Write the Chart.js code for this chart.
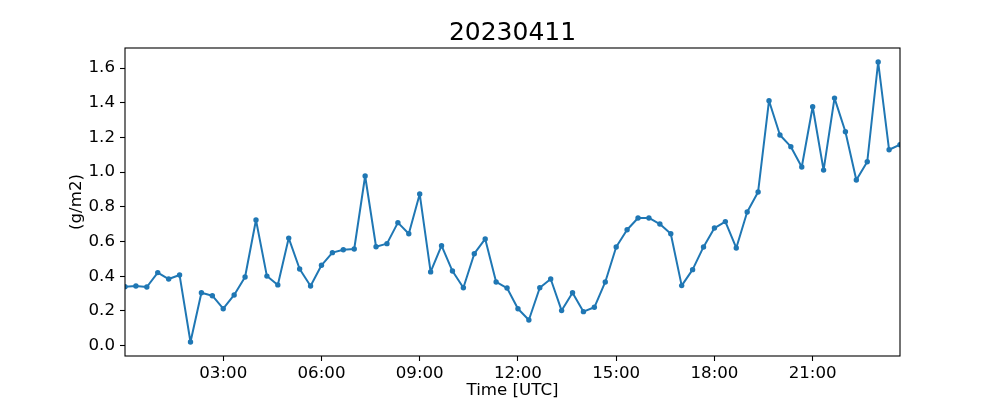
<!DOCTYPE html>
<html><head><meta charset="utf-8">
<script src="https://cdn.jsdelivr.net/npm/chart.js@4/dist/chart.umd.min.js"></script>
<style>html,body{margin:0;padding:0;background:#fff}</style>
</head><body>
<canvas id="c" width="1000" height="400"></canvas>
<script>
const chartTitle = '20230411';
const xAxisLabel = 'Time [UTC]';
const yAxisLabel = '(g/m2)';
const times = [
 '00:00','00:20','00:40','01:00','01:20','01:40','02:00','02:20','02:40','03:00','03:20','03:40',
 '04:00','04:20','04:40','05:00','05:20','05:40','06:00','06:20','06:40','07:00','07:20','07:40',
 '08:00','08:20','08:40','09:00','09:20','09:40','10:00','10:20','10:40','11:00','11:20','11:40',
 '12:00','12:20','12:40','13:00','13:20','13:40','14:00','14:20','14:40','15:00','15:20','15:40',
 '16:00','16:20','16:40','17:00','17:20','17:40','18:00','18:20','18:40','19:00','19:20','19:40',
 '20:00','20:20','20:40','21:00','21:20','21:40','22:00','22:20','22:40','23:00','23:20','23:40'
];
const values = [
 0.340,0.344,0.338,0.421,0.384,0.407,0.021,0.305,0.288,0.213,0.292,0.396,
 0.724,0.401,0.350,0.620,0.442,0.344,0.463,0.536,0.553,0.557,0.978,0.570,
 0.588,0.709,0.645,0.874,0.425,0.576,0.430,0.334,0.530,0.615,0.367,0.332,
 0.213,0.148,0.334,0.384,0.202,0.305,0.196,0.221,0.367,0.569,0.668,0.736,
 0.736,0.701,0.645,0.346,0.438,0.569,0.678,0.715,0.563,0.770,0.886,1.412,
 1.214,1.147,1.030,1.377,1.012,1.427,1.233,0.955,1.060,1.635,1.129,1.158
];
const yTicks = [0.0,0.2,0.4,0.6,0.8,1.0,1.2,1.4,1.6];
const xTickLabels = ['03:00','06:00','09:00','12:00','15:00','18:00','21:00'];

function toHours(t){ const p = t.split(':').map(Number); return p[0] + p[1]/60; }
const xs = times.map(toHours);
const points = xs.map((x,i)=>({x:x, y:values[i]}));
const xTickVals = xTickLabels.map(toHours);
const vmin = Math.min(...values), vmax = Math.max(...values), span = vmax - vmin;
const FONT = "'DejaVu Sans', sans-serif";

const frame = {
  id:'frame',
  afterDraw(chart){
    const ctx = chart.ctx, a = chart.chartArea;
    ctx.save();
    ctx.strokeStyle = '#000';
    ctx.lineWidth = 1.1;
    ctx.strokeRect(a.left, a.top, a.right - a.left, a.bottom - a.top);
    ctx.restore();
  }
};

new Chart(document.getElementById('c'), {
  type:'line',
  data:{datasets:[{
    data:points, borderColor:'#1f77b4', backgroundColor:'#1f77b4',
    borderWidth:2, borderJoinStyle:'round', borderCapStyle:'round',
    pointRadius:2.7, pointBorderWidth:0, pointHoverRadius:2.7,
    tension:0, fill:false
  }]},
  options:{
    responsive:false, animation:false, devicePixelRatio:1,
    layout:{padding:{left:0,right:100,top:0,bottom:0}},
    plugins:{
      legend:{display:false}, tooltip:{enabled:false},
      title:{display:true, fullSize:false, text:chartTitle, color:'#000',
        font:{family:FONT, size:25, weight:'normal'}, padding:{top:18,bottom:0}}
    },
    scales:{
      x:{
        type:'linear', min:xs[0], max:xs[xs.length-1],
        afterBuildTicks(s){ s.ticks = xTickVals.map(v=>({value:v})); },
        afterFit(s){ s.height = 44; },
        ticks:{autoSkip:false, maxRotation:0, color:'#000',
          font:{family:FONT, size:16.67}, padding:3,
          callback:(v,i)=>xTickLabels[i]},
        grid:{display:true, drawOnChartArea:false, drawTicks:true, tickLength:5, tickColor:'#000', tickWidth:1.1},
        border:{display:false},
        title:{display:true, text:xAxisLabel, color:'#000',
          font:{family:FONT, size:16.67}, padding:{top:0,bottom:-1}}
      },
      y:{
        type:'linear', min:vmin - 0.05*span, max:vmax + 0.05*span,
        afterBuildTicks(s){ s.ticks = yTicks.map(v=>({value:v})); },
        afterFit(s){ s.width = 125; },
        ticks:{color:'#000', font:{family:FONT, size:16.67}, padding:5,
          callback:(v)=>Number(v).toFixed(1)},
        grid:{display:true, drawOnChartArea:false, drawTicks:true, tickLength:5, tickColor:'#000', tickWidth:1.1},
        border:{display:false},
        title:{display:true, text:yAxisLabel, color:'#000',
          font:{family:FONT, size:16.67}, padding:{top:67,bottom:0}}
      }
    }
  },
  plugins:[frame]
});
</script>
</body></html>
